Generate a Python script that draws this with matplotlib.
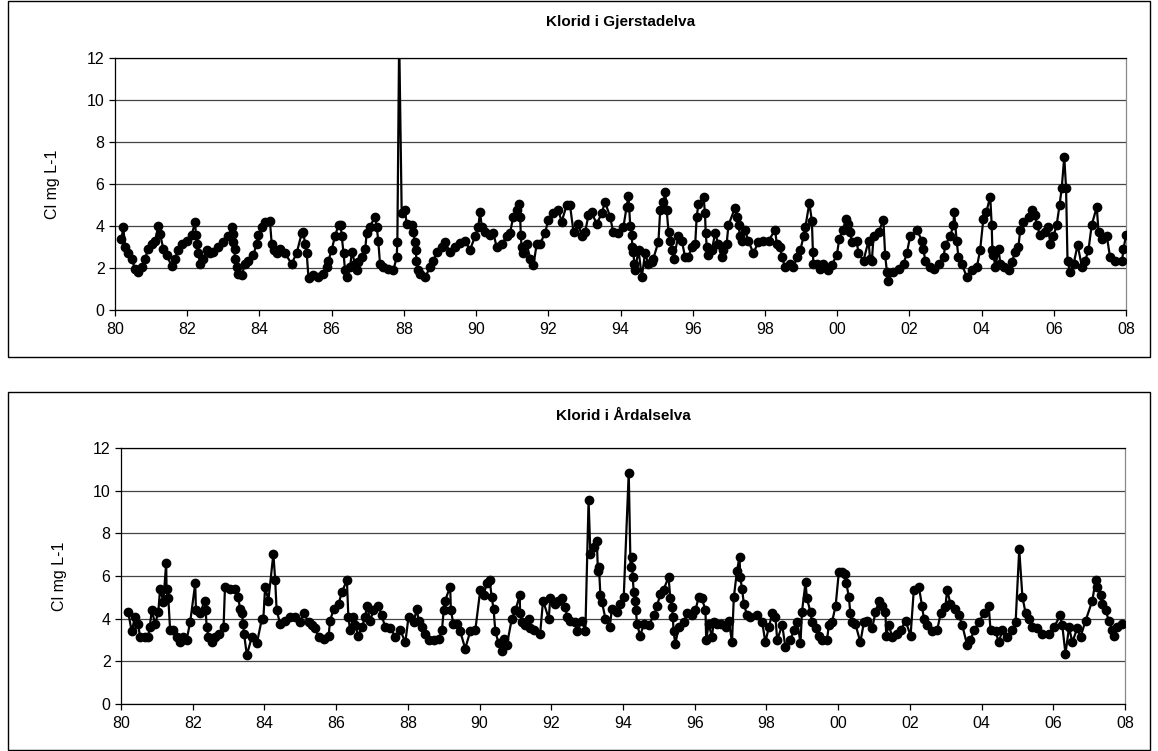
import matplotlib.pyplot as plt
from matplotlib.patches import Rectangle
import numpy as np

plt.rcParams['font.family'] = ['Liberation Sans', 'DejaVu Sans']

# Klorid i Gjerstadelva (years after 1900, Cl mg/L)
gj_year = [
    80.18, 80.23, 80.28, 80.37, 80.46, 80.55, 80.65, 80.74, 80.83, 80.92,
    81.02, 81.11, 81.20, 81.25, 81.34, 81.43, 81.57, 81.66, 81.75, 81.85,
    81.99, 82.12, 82.22, 82.24, 82.28, 82.31, 82.35, 82.45, 82.54, 82.63,
    82.72, 82.86, 83.00, 83.14, 83.23, 83.26, 83.28, 83.31, 83.32, 83.37,
    83.42, 83.51, 83.60, 83.69, 83.83, 83.92, 83.97, 84.06, 84.16, 84.29,
    84.34, 84.39, 84.48, 84.57, 84.71, 84.89, 85.03, 85.17, 85.22, 85.26,
    85.31, 85.36, 85.49, 85.63, 85.77, 85.86, 85.91, 86.00, 86.09, 86.19,
    86.25, 86.28, 86.33, 86.37, 86.42, 86.51, 86.56, 86.65, 86.69, 86.74,
    86.83, 86.93, 86.97, 87.06, 87.20, 87.25, 87.29, 87.34, 87.43, 87.57,
    87.71, 87.80, 87.82, 87.87, 87.94, 88.03, 88.08, 88.22, 88.26, 88.31,
    88.33, 88.35, 88.38, 88.45, 88.59, 88.73, 88.82, 88.91, 89.05, 89.14,
    89.28, 89.42, 89.55, 89.70, 89.83, 89.97, 90.06, 90.11, 90.16, 90.25,
    90.39, 90.48, 90.57, 90.71, 90.85, 90.94, 91.03, 91.13, 91.20, 91.22,
    91.24, 91.26, 91.31, 91.40, 91.50, 91.59, 91.68, 91.77, 91.91, 92.00,
    92.14, 92.28, 92.37, 92.51, 92.60, 92.70, 92.83, 92.93, 93.02, 93.11,
    93.20, 93.34, 93.48, 93.57, 93.71, 93.80, 93.94, 94.08, 94.17, 94.22,
    94.24, 94.27, 94.31, 94.33, 94.36, 94.38, 94.40, 94.50, 94.59, 94.68,
    94.77, 94.87, 94.91, 95.05, 95.10, 95.19, 95.24, 95.28, 95.33, 95.37,
    95.42, 95.47, 95.60, 95.70, 95.79, 95.88, 95.97, 96.07, 96.11, 96.16,
    96.30, 96.34, 96.36, 96.39, 96.41, 96.53, 96.62, 96.71, 96.81, 96.85,
    96.94, 96.99, 97.17, 97.22, 97.27, 97.31, 97.36, 97.45, 97.54, 97.68,
    97.82, 97.96, 98.10, 98.28, 98.33, 98.42, 98.47, 98.56, 98.70, 98.79,
    98.89, 98.98, 99.07, 99.12, 99.23, 99.30, 99.33, 99.34, 99.44, 99.53,
    99.62, 99.76, 99.85, 99.99, 100.06, 100.16, 100.25, 100.31, 100.36, 100.41,
    100.54, 100.59, 100.73, 100.87, 100.91, 100.96, 101.01, 101.15, 101.28, 101.33,
    101.38, 101.40, 101.56, 101.70, 101.84, 101.93, 102.02, 102.21, 102.35, 102.39,
    102.44, 102.58, 102.67, 102.81, 102.95, 102.99, 103.13, 103.22, 103.24, 103.31,
    103.36, 103.45, 103.59, 103.73, 103.87, 103.96, 104.05, 104.13, 104.24, 104.28,
    104.30, 104.33, 104.38, 104.47, 104.52, 104.61, 104.75, 104.84, 104.93, 105.02,
    105.07, 105.16, 105.30, 105.39, 105.48, 105.53, 105.62, 105.76, 105.85, 105.90,
    105.99, 106.08, 106.16, 106.22, 106.29, 106.34, 106.38, 106.45, 106.55, 106.66,
    106.78, 106.87, 106.96, 107.05, 107.19, 107.24, 107.33, 107.47, 107.56, 107.70,
    107.89, 107.93, 108.00,
]
gj_cl = [
    3.40, 3.95, 3.00, 2.70, 2.45, 1.97, 1.80, 2.05, 2.45, 2.90,
    3.15, 3.30, 4.00, 3.60, 2.90, 2.60, 2.10, 2.45, 2.85, 3.15,
    3.30, 3.55, 4.20, 3.55, 3.15, 2.70, 2.20, 2.45, 2.85, 2.70,
    2.75, 3.00, 3.25, 3.50, 3.95, 3.60, 3.25, 2.90, 2.45, 2.05,
    1.73, 1.65, 2.20, 2.35, 2.60, 3.15, 3.55, 3.95, 4.20, 4.25,
    3.15, 2.85, 2.70, 2.90, 2.70, 2.20, 2.70, 3.65, 3.70, 3.15,
    2.70, 1.50, 1.65, 1.57, 1.73, 2.05, 2.35, 2.85, 3.50, 4.05,
    4.05, 3.50, 2.70, 1.90, 1.57, 2.05, 2.75, 2.20, 1.90, 2.30,
    2.50, 2.90, 3.65, 3.95, 4.45, 3.95, 3.30, 2.20, 2.05, 1.97,
    1.90, 2.50, 3.25, 13.00, 4.60, 4.75, 4.10, 4.05, 3.70, 3.25,
    2.85, 2.35, 1.90, 1.73, 1.57, 2.05, 2.35, 2.75, 3.00, 3.25,
    2.75, 3.00, 3.20, 3.30, 2.85, 3.50, 3.95, 4.65, 3.95, 3.70,
    3.55, 3.65, 3.00, 3.15, 3.50, 3.65, 4.45, 4.75, 5.05, 4.45,
    3.55, 3.00, 2.70, 3.15, 2.45, 2.15, 3.15, 3.15, 3.65, 4.30,
    4.60, 4.75, 4.20, 5.00, 5.00, 3.70, 4.10, 3.50, 3.70, 4.50,
    4.65, 4.10, 4.60, 5.15, 4.45, 3.70, 3.65, 3.95, 4.90, 5.45,
    4.90, 4.00, 3.55, 3.00, 2.75, 2.20, 1.90, 2.85, 1.57, 2.70,
    2.20, 2.30, 2.45, 3.25, 4.75, 5.15, 5.60, 4.75, 3.70, 3.30,
    2.85, 2.45, 3.50, 3.30, 2.50, 2.50, 3.00, 3.15, 4.45, 5.05,
    5.40, 4.60, 3.65, 3.00, 2.60, 2.85, 3.65, 3.15, 2.50, 2.85,
    3.15, 4.05, 4.85, 4.45, 4.05, 3.50, 3.30, 3.80, 3.30, 2.70,
    3.25, 3.30, 3.30, 3.80, 3.15, 3.00, 2.50, 2.05, 2.20, 2.05,
    2.50, 2.85, 3.50, 3.95, 5.10, 4.25, 2.75, 2.20, 2.20, 1.97,
    2.20, 1.90, 2.15, 2.60, 3.40, 3.80, 4.35, 4.10, 3.70, 3.25,
    3.30, 2.70, 2.35, 3.30, 2.45, 2.35, 3.50, 3.70, 4.30, 2.60,
    1.80, 1.40, 1.80, 1.97, 2.20, 2.70, 3.50, 3.80, 3.30, 2.90,
    2.35, 2.05, 1.97, 2.20, 2.50, 3.10, 3.50, 4.05, 4.65, 3.30,
    2.50, 2.20, 1.57, 1.90, 2.05, 2.85, 4.35, 4.65, 5.40, 4.05,
    2.85, 2.60, 2.05, 2.90, 2.20, 2.05, 1.90, 2.30, 2.75, 3.00,
    3.80, 4.20, 4.45, 4.75, 4.50, 4.05, 3.55, 3.70, 3.95, 3.15,
    3.50, 4.05, 5.00, 5.80, 7.30, 5.80, 2.35, 1.80, 2.20, 3.10,
    2.05, 2.35, 2.85, 4.05, 4.90, 3.70, 3.40, 3.50, 2.50, 2.35,
    2.35, 2.90, 3.55,
]

# Klorid i Årdalselva
ar_year = [
    80.20, 80.30, 80.39, 80.48, 80.53, 80.67, 80.76, 80.80, 80.86, 80.95,
    81.04, 81.09, 81.18, 81.26, 81.27, 81.32, 81.37, 81.46, 81.55, 81.65,
    81.74, 81.83, 81.93, 82.07, 82.09, 82.20, 82.34, 82.36, 82.39, 82.44,
    82.53, 82.62, 82.72, 82.86, 82.90, 83.04, 83.18, 83.27, 83.32, 83.37,
    83.41, 83.43, 83.51, 83.65, 83.79, 83.93, 83.97, 84.02, 84.11, 84.25,
    84.30, 84.34, 84.44, 84.58, 84.72, 84.86, 85.00, 85.09, 85.23, 85.32,
    85.41, 85.51, 85.65, 85.79, 85.83, 85.93, 86.07, 86.16, 86.30, 86.34,
    86.39, 86.48, 86.53, 86.62, 86.72, 86.81, 86.86, 86.95, 87.04, 87.18,
    87.27, 87.37, 87.51, 87.65, 87.79, 87.93, 88.02, 88.16, 88.25, 88.30,
    88.39, 88.48, 88.58, 88.72, 88.86, 88.95, 89.00, 89.04, 89.18, 89.20,
    89.27, 89.37, 89.46, 89.60, 89.74, 89.88, 90.02, 90.11, 90.20, 90.28,
    90.34, 90.39, 90.44, 90.53, 90.62, 90.67, 90.76, 90.90, 91.00, 91.12,
    91.13, 91.18, 91.27, 91.37, 91.41, 91.51, 91.69, 91.77, 91.93, 91.97,
    92.11, 92.20, 92.30, 92.39, 92.44, 92.53, 92.67, 92.72, 92.86, 92.95,
    93.04, 93.09, 93.18, 93.27, 93.30, 93.33, 93.37, 93.41, 93.51, 93.63,
    93.69, 93.83, 93.93, 94.02, 94.16, 94.21, 94.25, 94.27, 94.30, 94.34,
    94.36, 94.39, 94.48, 94.58, 94.72, 94.86, 94.95, 95.04, 95.13, 95.27,
    95.32, 95.37, 95.39, 95.41, 95.46, 95.55, 95.69, 95.79, 95.93, 96.02,
    96.11, 96.20, 96.30, 96.32, 96.39, 96.48, 96.53, 96.62, 96.72, 96.86,
    96.95, 97.04, 97.09, 97.18, 97.25, 97.27, 97.32, 97.37, 97.46, 97.55,
    97.74, 97.88, 97.97, 98.07, 98.16, 98.25, 98.30, 98.44, 98.53, 98.67,
    98.76, 98.86, 98.95, 98.99, 99.09, 99.13, 99.23, 99.27, 99.37, 99.46,
    99.55, 99.69, 99.74, 99.83, 99.93, 100.02, 100.11, 100.20, 100.23, 100.30,
    100.34, 100.39, 100.48, 100.62, 100.72, 100.81, 100.95, 101.04, 101.14, 101.23,
    101.32, 101.34, 101.41, 101.51, 101.65, 101.74, 101.88, 102.02, 102.11, 102.25,
    102.34, 102.39, 102.48, 102.62, 102.76, 102.86, 102.99, 103.04, 103.13, 103.27,
    103.37, 103.46, 103.60, 103.69, 103.79, 103.93, 104.07, 104.20, 104.25, 104.39,
    104.48, 104.58, 104.72, 104.86, 104.95, 105.05, 105.14, 105.23, 105.32, 105.41,
    105.55, 105.69, 105.88, 106.02, 106.19, 106.25, 106.34, 106.44, 106.53, 106.67,
    106.76, 106.90, 107.09, 107.18, 107.23, 107.32, 107.37, 107.46, 107.55, 107.65,
    107.69, 107.79, 107.93,
]
ar_cl = [
    4.30, 3.40, 4.10, 3.75, 3.15, 3.15, 3.15, 3.60, 4.40, 3.75,
    4.30, 5.40, 4.80, 6.60, 5.40, 4.95, 3.45, 3.45, 3.15, 2.90,
    3.15, 3.00, 3.85, 5.65, 4.40, 4.25, 4.85, 4.40, 3.60, 3.15,
    2.90, 3.15, 3.30, 3.60, 5.50, 5.40, 5.40, 5.00, 4.45, 4.25,
    3.75, 3.30, 2.30, 3.15, 2.85, 4.00, 4.00, 5.50, 4.85, 7.05,
    5.80, 4.40, 3.75, 3.90, 4.10, 4.10, 3.85, 4.25, 3.85, 3.70,
    3.55, 3.15, 3.05, 3.20, 3.90, 4.45, 4.70, 5.25, 5.80, 4.10,
    3.45, 4.10, 3.70, 3.20, 3.60, 4.10, 4.60, 3.90, 4.40, 4.60,
    4.15, 3.60, 3.55, 3.15, 3.45, 2.90, 4.10, 3.85, 4.45, 3.90,
    3.60, 3.30, 3.00, 3.00, 3.05, 3.45, 4.40, 4.85, 5.50, 4.40,
    3.75, 3.75, 3.40, 2.60, 3.40, 3.45, 5.35, 5.10, 5.65, 5.80,
    5.00, 4.45, 3.40, 2.85, 2.50, 3.05, 2.75, 4.00, 4.40, 5.10,
    4.25, 3.85, 3.70, 4.00, 3.55, 3.45, 3.30, 4.85, 4.00, 4.95,
    4.70, 4.85, 4.95, 4.55, 4.10, 3.90, 3.85, 3.40, 3.90, 3.40,
    9.55, 7.05, 7.35, 7.65, 6.25, 6.40, 5.10, 4.80, 4.00, 3.60,
    4.45, 4.30, 4.70, 5.00, 10.85, 6.40, 6.90, 5.95, 5.25, 4.85,
    4.40, 3.75, 3.20, 3.75, 3.70, 4.15, 4.60, 5.15, 5.35, 5.95,
    4.95, 4.55, 4.10, 3.40, 2.80, 3.60, 3.85, 4.25, 4.15, 4.40,
    5.00, 4.95, 4.40, 3.00, 3.75, 3.15, 3.85, 3.75, 3.75, 3.60,
    3.90, 2.90, 5.00, 6.25, 6.90, 5.95, 5.40, 4.70, 4.15, 4.10,
    4.15, 3.85, 2.90, 3.60, 4.25, 4.10, 3.00, 3.70, 2.65, 3.00,
    3.45, 3.85, 2.85, 4.30, 5.70, 4.95, 4.30, 3.85, 3.55, 3.20,
    3.00, 3.00, 3.70, 3.85, 4.60, 6.20, 6.20, 6.10, 5.65, 5.00,
    4.25, 3.85, 3.75, 2.90, 3.85, 3.90, 3.55, 4.30, 4.85, 4.60,
    4.30, 3.20, 3.70, 3.15, 3.30, 3.45, 3.90, 3.20, 5.35, 5.50,
    4.60, 4.00, 3.70, 3.40, 3.45, 4.25, 4.55, 5.35, 4.70, 4.45,
    4.15, 3.70, 2.75, 3.00, 3.45, 3.85, 4.25, 4.60, 3.45, 3.40,
    2.90, 3.45, 3.15, 3.45, 3.85, 7.25, 5.00, 4.25, 4.00, 3.60,
    3.55, 3.30, 3.30, 3.60, 4.15, 3.70, 2.35, 3.60, 2.90, 3.55,
    3.15, 3.90, 4.85, 5.80, 5.50, 5.10, 4.70, 4.40, 3.90, 3.45,
    3.20, 3.60, 3.75,
]

titles = ['Klorid i Gjerstadelva', 'Klorid i Årdalselva']
ylabel = 'Cl mg L-1'
x_ticks = list(range(1980, 2009, 2))
x_ticklabels = [f'{y % 100:02d}' for y in x_ticks]
y_ticks = [0, 2, 4, 6, 8, 10, 12]

W, H = 1158, 751
fig = plt.figure(figsize=(W / 100, H / 100), dpi=100)

# chart frames (px: left, top, right, bottom)
frames = [(8, 1, 1150, 357), (8, 392, 1150, 750)]
# plot areas (px: left, top, right, bottom)
areas = [(115, 58, 1126, 310), (121, 448, 1125, 704)]
title_y = [22, 416]
label_x = [60, 67]

for i, (years, vals) in enumerate([(gj_year, gj_cl), (ar_year, ar_cl)]):
    fl, ft, fr, fb = frames[i]
    fig.patches.append(Rectangle((fl / W, 1 - fb / H), (fr - fl) / W, (fb - ft) / H,
                                 transform=fig.transFigure, fill=False,
                                 edgecolor='black', linewidth=1.0))
    l, t, r, b = areas[i]
    ax = fig.add_axes([l / W, 1 - b / H, (r - l) / W, (b - t) / H])
    x = 1900 + np.array(years)
    ax.plot(x, vals, color='black', linewidth=1.6, marker='o',
            markersize=6, markerfacecolor='black', markeredgecolor='black',
            clip_on=True, zorder=3)
    ax.set_xlim(1980, 2008)
    ax.set_ylim(0, 12)
    ax.set_xticks(x_ticks)
    ax.set_xticklabels(x_ticklabels)
    ax.set_yticks(y_ticks)
    ax.yaxis.grid(True, color='#444444', linewidth=0.9)
    ax.set_axisbelow(True)
    ax.tick_params(axis='both', direction='out', length=4, width=0.9,
                   labelsize=11.5, color='black')
    ax.tick_params(axis='x', pad=5)
    for s in ax.spines.values():
        s.set_color('black')
        s.set_linewidth(0.9)
    ax.spines['right'].set_color('#888888')
    ax.set_ylabel(ylabel, fontsize=11.5)
    ax.yaxis.set_label_coords((label_x[i] - l) / (r - l), 0.5)
    fig.text((l + r) / 2 / W, 1 - title_y[i] / H, titles[i], ha='center',
             va='center', fontsize=11, fontweight='bold')

fig.savefig('out.png', dpi=100)
